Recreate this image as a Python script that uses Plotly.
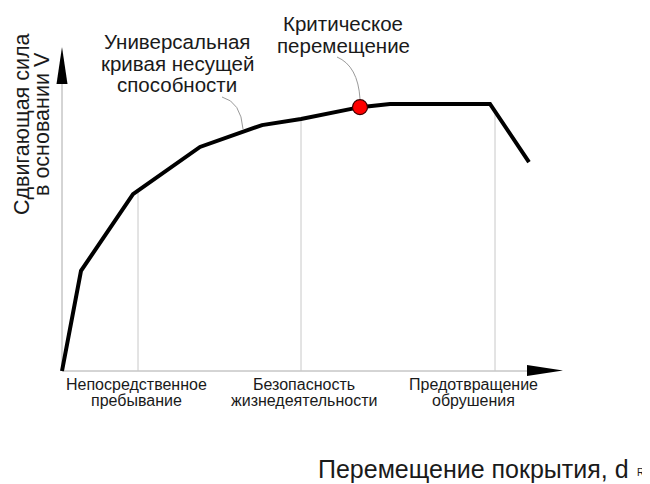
import numpy as np
import plotly.graph_objects as go

# ---- data (arbitrary units: displacement, base shear) ----
curve_x = [0, 3.8, 14.2, 27.6, 40.0, 47.8, 59.6, 65.6, 85.6, 93.4]
curve_y = [0, 31.2, 55.1, 69.8, 76.6, 78.5, 82.2, 83.2, 83.2, 65.1]
critical_x = [59.6]
critical_y = [82.2]
level_x = [15.2, 47.8, 86.6]          # performance levels (gridlines)
level_label_x = [14.8, 48.4, 82.2]    # label centres
level_labels = [["Непосредственное", "пребывание"],
                ["Безопасность", "жизнедеятельности"],
                ["Предотвращение", "обрушения"]]

# ---- geometry (the page has an 8px body margin) ----
OFF = 8
W, H = 650 - OFF, 484 - OFF
X0PIX, Y0PIX = 62, 371      # reference pixel of data origin
SX, SY = 5.0, 3.21          # pixels per data unit
XR = [-(X0PIX - OFF) / SX, (W - (X0PIX - OFF)) / SX]
YR = [-(H - (Y0PIX - OFF)) / SY, (Y0PIX - OFF) / SY]


def dx(p):  # reference pixel -> data x
    return (p - X0PIX) / SX


def dy(p):  # reference pixel -> data y
    return (Y0PIX - p) / SY


FONT = "Liberation Sans, Arial, sans-serif"
TXT = "#1a1a1a"
fig = go.Figure()

# vertical level lines up to the curve
for lx in level_x:
    top = float(np.interp(lx, curve_x, curve_y))
    fig.add_trace(go.Scatter(x=[lx, lx], y=[0, top], mode="lines",
                             line=dict(color="#c8c8c8", width=1),
                             hoverinfo="skip", showlegend=False))

# capacity curve
fig.add_trace(go.Scatter(x=curve_x, y=curve_y, mode="lines",
                         line=dict(color="black", width=4),
                         showlegend=False))
fig.add_trace(go.Scatter(x=critical_x, y=critical_y, mode="markers",
                         marker=dict(color="#ff0000", size=15,
                                     line=dict(color="#3a0000", width=1.2)),
                         showlegend=False))

shapes = [
    dict(type="line", xref="x", yref="y", x0=0, y0=0, x1=dx(530), y1=0,
         line=dict(color="#aaaaaa", width=1), layer="below"),
    dict(type="line", xref="x", yref="y", x0=0, y0=0, x1=0, y1=dy(82),
         line=dict(color="#aaaaaa", width=1), layer="below"),
    dict(type="path", xref="x", yref="y",
         path=f"M {dx(527)} {dy(365)} L {dx(563)} {dy(370.5)} L {dx(527)} {dy(376)} Z",
         fillcolor="black", line=dict(width=0)),
    dict(type="path", xref="x", yref="y",
         path=f"M {dx(56.5)} {dy(84)} L {dx(62)} {dy(47)} L {dx(67.5)} {dy(84)} Z",
         fillcolor="black", line=dict(width=0)),
    dict(type="path", xref="x", yref="y",
         path=f"M {dx(222)} {dy(97)} Q {dx(241)} {dy(102)} {dx(243)} {dy(129)}",
         line=dict(color="#9a9a9a", width=1)),
    dict(type="path", xref="x", yref="y",
         path=f"M {dx(337)} {dy(57)} Q {dx(358)} {dy(66)} {dx(360)} {dy(99)}",
         line=dict(color="#9a9a9a", width=1)),
]

ann = []


def text(xp, yp, s, size, angle=0, xanchor="center"):
    ann.append(dict(x=dx(xp), y=dy(yp), xref="x", yref="y", text=s,
                    showarrow=False, xanchor=xanchor, yanchor="middle",
                    textangle=angle,
                    font=dict(family=FONT, size=size, color=TXT)))


LX_PIX = [X0PIX + v * SX for v in level_label_x]
for xp, lines in zip(LX_PIX, level_labels):
    text(xp, 384, lines[0], 16)
    text(xp, 400, lines[1], 16)

text(177, 41.5, "Универсальная", 20.5)
text(177, 63, "кривая несущей", 20.5)
text(177, 84.5, "способности", 20.5)
text(343, 23, "Критическое", 20.5)
text(343, 45, "перемещение", 20.5)
text(22, 124, "Сдвигающая сила", 21.5, angle=-90)
text(42, 124, "в основании V", 21.5, angle=-90)
text(631, 469, "Перемещение покрытия, d", 25, xanchor="right")
text(640, 472, "R", 10)

fig.update_layout(
    width=W, height=H, margin=dict(l=0, r=0, t=0, b=0, pad=0),
    paper_bgcolor="white", plot_bgcolor="white",
    xaxis=dict(range=XR, visible=False, fixedrange=True),
    yaxis=dict(range=YR, visible=False, fixedrange=True),
    shapes=shapes, annotations=ann, showlegend=False,
)
fig.write_html("out.html")
